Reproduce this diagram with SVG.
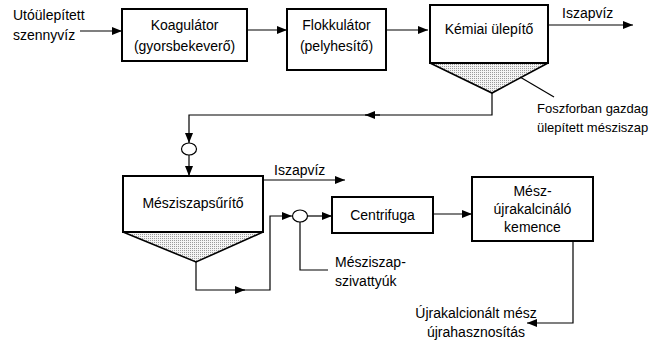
<svg xmlns="http://www.w3.org/2000/svg" width="650" height="341" viewBox="0 0 650 341">
<style>
text{font-family:'Liberation Sans',Arial,sans-serif;font-size:14px;fill:#000}
.sm{font-size:13px}
.box{fill:#fff;stroke:#000;stroke-width:2}
.hop{fill:url(#dots);stroke:#000;stroke-width:1.6}
.ln{fill:none;stroke:#000;stroke-width:1.2}
.pump{fill:#fff;stroke:#000;stroke-width:1.2}
.c{text-anchor:middle}
</style>
<defs>
<pattern id="dots" width="2" height="2" patternUnits="userSpaceOnUse">
<rect width="2" height="2" fill="#f4f4f4"/>
<rect width="1" height="1" fill="#9a9a9a"/>
</pattern>
<marker id="ah" markerWidth="10" markerHeight="8" refX="10" refY="4" orient="auto" markerUnits="userSpaceOnUse">
<path d="M0,0 L10,4 L0,8 Z" fill="#000"/>
</marker>
</defs>
<g id="connectors">
<path class="ln" d="M80,31 H122" marker-end="url(#ah)"/>
<path class="ln" d="M247,30 H287" marker-end="url(#ah)"/>
<path class="ln" d="M386,30 H428" marker-end="url(#ah)"/>
<path class="ln" d="M548,25 H633" marker-end="url(#ah)"/>
<path class="ln" d="M492,93 V115 H365"/>
<path class="ln" d="M380,115 H365" marker-end="url(#ah)"/>
<path class="ln" d="M365,115 H189 V143" marker-end="url(#ah)"/>
<path class="ln" d="M189,155 V176" marker-end="url(#ah)"/>
<path class="ln" d="M520,77 L554,97"/>
<path class="ln" d="M263,180 H345" marker-end="url(#ah)"/>
<path class="ln" d="M196,262 V290 H245" marker-end="url(#ah)"/>
<path class="ln" d="M240,290 H270 V216 H292" marker-end="url(#ah)"/>
<path class="ln" d="M307,216 H332" marker-end="url(#ah)"/>
<path class="ln" d="M300,222 V270 H328"/>
<path class="ln" d="M433,214 H472" marker-end="url(#ah)"/>
<path class="ln" d="M573,241 V323 H527" marker-end="url(#ah)"/>
</g>
<g id="input">
<text x="13" y="20">Utóülepített</text>
<text x="13" y="40">szennyvíz</text>
</g>
<g id="koagulator">
<rect class="box" x="122" y="9" width="125" height="52"/>
<text class="c" x="184.5" y="30">Koagulátor</text>
<text class="c" x="184.5" y="51">(gyorsbekeverő)</text>
</g>
<g id="flokkulator">
<rect class="box" x="287" y="9" width="99" height="61"/>
<text class="c" x="336.5" y="30">Flokkulátor</text>
<text class="c" x="336.5" y="51">(pelyhesítő)</text>
</g>
<g id="kemiai">
<polygon class="hop" points="430,63 548,63 492,93"/>
<rect class="box" x="430" y="5" width="118" height="58"/>
<text class="c" x="489" y="34">Kémiai ülepítő</text>
</g>
<g id="iszapviz1"><text x="562" y="18">Iszapvíz</text></g>
<g id="foszfor">
<text class="sm" x="537" y="113">Foszforban gazdag</text>
<text class="sm" x="537" y="132">ülepített mésziszap</text>
</g>
<g id="pump1"><ellipse class="pump" cx="189" cy="149" rx="7.5" ry="6"/></g>
<g id="meszsurito">
<polygon class="hop" points="123,232 263,232 196,262"/>
<rect class="box" x="123" y="176" width="140" height="56"/>
<text class="c" x="193" y="208">Mésziszapsűrítő</text>
</g>
<g id="iszapviz2"><text x="274" y="175">Iszapvíz</text></g>
<g id="pump2"><ellipse class="pump" cx="300" cy="216" rx="7.5" ry="6"/></g>
<g id="szivattyuk">
<text x="335" y="267">Mésziszap-</text>
<text x="335" y="286">szivattyúk</text>
</g>
<g id="centrifuga">
<rect class="box" x="332" y="197" width="101" height="36"/>
<text class="c" x="382.5" y="220">Centrifuga</text>
</g>
<g id="kemence">
<rect class="box" x="472" y="177" width="121" height="64"/>
<text class="c" x="532.5" y="196">Mész-</text>
<text class="c" x="532.5" y="214">újrakalcináló</text>
<text class="c" x="532.5" y="232">kemence</text>
</g>
<g id="output">
<text class="c" x="476" y="318">Újrakalcionált mész</text>
<text class="c" x="476" y="337">újrahasznosítás</text>
</g>
</svg>
